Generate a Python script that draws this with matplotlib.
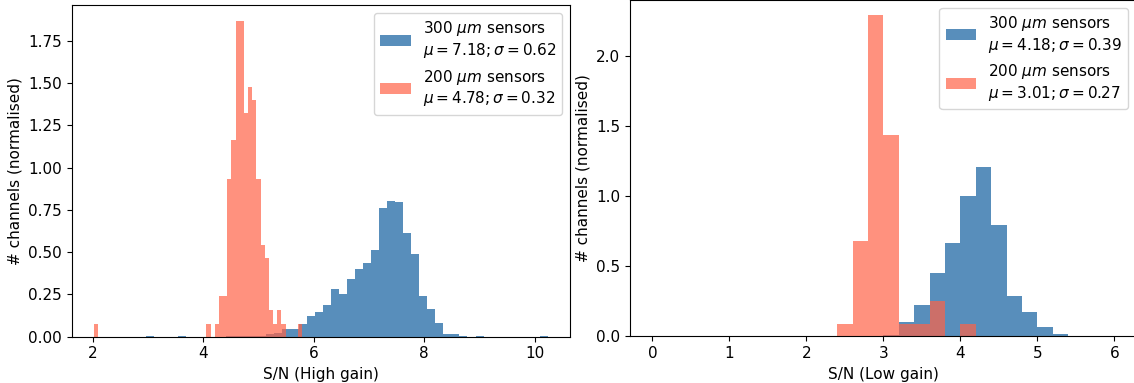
import numpy as np
import matplotlib
matplotlib.use("Agg")
import matplotlib.pyplot as plt

plt.rcParams["font.size"] = 11

# High gain: 50 bins each, between the min and max of each sample
hg_300_range = (2.96, 10.24)
hg_200_range = (2.025, 5.795)

hg_300 = [0.006, 0, 0, 0, 0.006, 0, 0, 0, 0, 0,
          0.006, 0.006, 0.006, 0.006, 0.006, 0.014, 0.024, 0.043, 0.043, 0.075,
          0.124, 0.146, 0.187, 0.282, 0.252, 0.341, 0.400, 0.438, 0.513, 0.761,
          0.802, 0.798, 0.615, 0.489, 0.238, 0.164, 0.081, 0.018, 0.018, 0.006,
          0, 0.006, 0, 0, 0, 0, 0, 0, 0, 0.006]

hg_200 = [0.075, 0, 0, 0, 0, 0, 0, 0, 0, 0,
          0, 0, 0, 0, 0, 0, 0, 0, 0, 0,
          0, 0, 0, 0, 0, 0, 0, 0.075, 0, 0.075,
          0.238, 0.238, 0.932, 1.166, 1.868, 1.868, 1.324, 1.478, 1.403, 0.932,
          0.543, 0.467, 0.158, 0.078, 0.158, 0.078, 0, 0, 0, 0.078]

# Low gain: 0.2 wide bins from 0 to 6
lg_edges = [0.0, 0.2, 0.4, 0.6, 0.8, 1.0, 1.2, 1.4, 1.6, 1.8, 2.0, 2.2, 2.4, 2.6, 2.8, 3.0,
            3.2, 3.4, 3.6, 3.8, 4.0, 4.2, 4.4, 4.6, 4.8, 5.0, 5.2, 5.4, 5.6, 5.8, 6.0]

lg_300 = [0, 0, 0, 0, 0, 0, 0, 0, 0, 0, 0, 0, 0, 0.005, 0, 0.01,
          0.104, 0.223, 0.453, 0.667, 1.00, 1.209, 0.793, 0.287, 0.175, 0.068,
          0.014, 0, 0, 0]

lg_200 = [0, 0, 0, 0, 0, 0, 0, 0, 0, 0, 0, 0, 0.088, 0.68, 2.29, 1.44,
          0.088, 0.088, 0.254, 0, 0.088, 0, 0, 0, 0, 0,
          0, 0, 0, 0]

labels_hg = ["300 $\\mu m$ sensors\n$\\mu=7.18; \\sigma=0.62$",
             "200 $\\mu m$ sensors\n$\\mu=4.78; \\sigma=0.32$"]
labels_lg = ["300 $\\mu m$ sensors\n$\\mu=4.18; \\sigma=0.39$",
             "200 $\\mu m$ sensors\n$\\mu=3.01; \\sigma=0.27$"]

fig = plt.figure(figsize=(11.34, 3.83), dpi=100)
ax1 = fig.add_axes([0.0631, 0.1209, 0.4396, 0.8648])
ax2 = fig.add_axes([0.5556, 0.1219, 0.4462, 0.8781])

e300 = np.linspace(*hg_300_range, len(hg_300) + 1)
e200 = np.linspace(*hg_200_range, len(hg_200) + 1)
ax1.hist(e300[:-1], bins=e300, weights=hg_300, color="steelblue", alpha=0.9, label=labels_hg[0])
ax1.hist(e200[:-1], bins=e200, weights=hg_200, color="tomato", alpha=0.7, label=labels_hg[1])
ax1.set_xlim(1.62, 10.64)
ax1.set_ylim(0, 1.96)
ax1.set_yticks([0, 0.25, 0.5, 0.75, 1.0, 1.25, 1.5, 1.75])
ax1.set_xlabel("S/N (High gain)")
ax1.set_ylabel("# channels (normalised)")
ax1.legend(loc="upper right", fontsize=11)

ax2.hist(lg_edges[:-1], bins=lg_edges, weights=lg_300, color="steelblue", alpha=0.9, label=labels_lg[0])
ax2.hist(lg_edges[:-1], bins=lg_edges, weights=lg_200, color="tomato", alpha=0.7, label=labels_lg[1])
ax2.set_xlim(-0.29, 6.28)
ax2.set_ylim(0, 2.4)
ax2.set_yticks([0, 0.5, 1.0, 1.5, 2.0])
ax2.set_xlabel("S/N (Low gain)")
ax2.set_ylabel("# channels (normalised)")
ax2.legend(loc="upper right", fontsize=11)

fig.savefig("out.png", dpi=100)
